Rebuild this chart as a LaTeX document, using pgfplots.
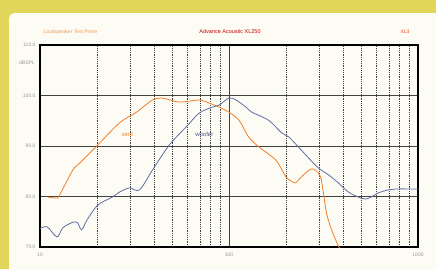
\documentclass[border=0pt]{standalone}
\usepackage{pgfplots}
\pgfplotsset{compat=1.18}
\usepackage{fontspec}
\setmainfont{Liberation Sans}
\definecolor{vent}{RGB}{240,128,40}
\definecolor{woof}{RGB}{95,110,165}
\definecolor{frameyel}{RGB}{226,214,90}
\definecolor{panel}{RGB}{252,251,244}
\definecolor{lbl}{RGB}{150,150,150}
\begin{document}
\begin{tikzpicture}[x=1pt,y=1pt]
\useasboundingbox (0,0) rectangle (436,269);
\fill[frameyel] (0,0) rectangle (436,269);
\fill[panel, rounded corners=6pt] (9,-10) rectangle (446,256);
\node[anchor=west, text=vent!80, font=\fontsize{5}{6}\selectfont] at (40,237) {Loudspeaker Test Prime};
\node[text=red!80!black, font=\fontsize{5.5}{6}\selectfont] at (230,237) {Advance Acoustic XL250};
\node[text=red!50!vent, font=\fontsize{5}{6}\selectfont] at (405,237) {XL3};
\begin{axis}[
  at={(40pt,22pt)}, anchor=south west,
  scale only axis, width=378pt, height=202pt,
  xmode=log, xmin=10, xmax=1000, ymin=70, ymax=110,
  xtick={10,100,1000}, xticklabels={10,100,1000},
  ytick={70,80,90,100,110},
  yticklabels={70.0,80.0,90.0,100.0,110.0},
  major tick length=0pt, minor tick length=0pt,
  grid=both,
  major grid style={black!75, line width=0.6pt},
  minor grid style={black!75, dash pattern=on 1.2pt off 1pt, line width=0.45pt},
  axis line style={black, line width=1.1pt},
  tick label style={text=lbl, font=\fontsize{5}{6}\selectfont},
  xticklabel style={yshift=-2pt},
  yticklabel style={xshift=-1pt},
  clip=true,
]
\addplot[vent, line width=0.8pt, smooth] coordinates {
(11.0,79.9) (12.3,79.7) (12.7,80.3) (14.9,85.2) (16.2,86.6) (20.2,90.2)
(26.4,94.6) (32.4,96.7) (39.3,99.1) (44.4,99.5) (54.5,98.7) (69.5,99.1)
(78.5,98.5) (88.6,97.7) (100,96.7) (113,95.1) (127,91.8) (144,89.8)
(177,87.2) (200,83.9) (215,83.0) (225,82.7) (242,83.9) (270,85.4)
(287,85.2) (305,83.9) (316,80.7) (328,76.7) (349,73.4) (379,70.2) (390,69.5)
};
\addplot[woof, line width=0.8pt, smooth] coordinates {
(10.0,73.6) (10.9,74.0) (12.3,72.0) (13.2,73.8) (14.9,74.9) (15.8,74.8)
(16.6,73.4) (17.7,75.3) (20.2,78.3) (24.2,79.9) (26.4,80.9) (29.8,81.7)
(33.6,81.3) (39.3,85.2) (48.3,90.2) (59.4,93.8) (69.5,96.5) (81.4,97.7)
(88.6,98.1) (100,99.5) (109,99.1) (123,97.7) (132,96.7) (162,95.1)
(190,92.6) (207,91.8) (233,89.8) (264,87.6) (298,85.6) (336,84.3)
(379,82.7) (428,80.9) (483,79.9) (526,79.5) (566,79.9) (615,80.7)
(695,81.3) (785,81.5) (885,81.5) (1000,81.5)
};
\node[text=vent, font=\fontsize{6}{7}\selectfont] at (axis cs:29,92.3) {vent};
\node[text=woof!80!black, font=\fontsize{6}{7}\selectfont] at (axis cs:74,92.3) {woofer};
\end{axis}
\node[text=lbl, font=\fontsize{5}{6}\selectfont] at (27,206) {dBSPL};
\end{tikzpicture}
\end{document}
